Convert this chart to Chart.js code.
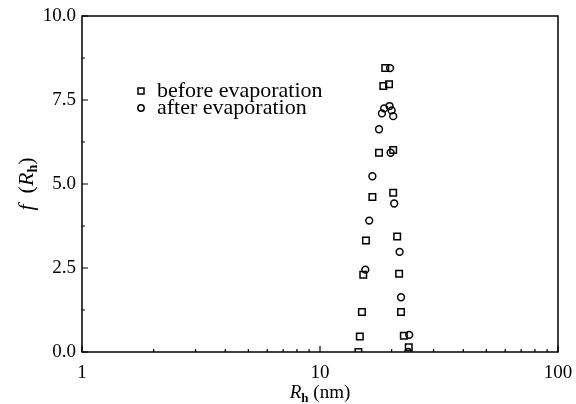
<!DOCTYPE html>
<html>
<head>
<meta charset="utf-8">
<script src="https://cdn.jsdelivr.net/npm/chart.js@4"></script>
<style>
  html, body { margin: 0; padding: 0; background: #fff; }
  #wrap { width: 576px; height: 404px; }
</style>
</head>
<body>
<div id="wrap"><canvas id="chart" width="576" height="404"></canvas></div>
<script>
// hydrodynamic radius (nm) and distribution values
const beforeX = [14.5, 14.7, 15.0, 15.2, 15.6, 16.6, 17.7, 18.45, 18.8, 19.5, 20.3, 20.3, 21.1, 21.5, 21.9, 22.5, 23.6];
const beforeY = [0.0, 0.46, 1.19, 2.30, 3.32, 4.61, 5.93, 7.92, 8.45, 7.97, 6.01, 4.74, 3.44, 2.33, 1.19, 0.48, 0.14];
const afterX = [15.5, 16.1, 16.6, 17.7, 18.2, 18.6, 19.7, 19.6, 20.0, 20.3, 19.8, 20.5, 21.6, 21.9, 23.7, 23.5];
const afterY = [2.45, 3.91, 5.23, 6.63, 7.10, 7.25, 8.45, 7.32, 7.19, 7.02, 5.93, 4.42, 2.98, 1.63, 0.51, 0.0];

const seriesNames = ['before evaporation', 'after evaporation'];
const xTickValues = [1, 10, 100];
const xMinorValues = [2, 3, 4, 5, 6, 7, 8, 9, 20, 30, 40, 50, 60, 70, 80, 90];
const yTickValues = [0, 2.5, 5, 7.5, 10];
const yMinorValues = [1.25, 3.75, 6.25, 8.75];

const SERIF = '"Liberation Serif", "DejaVu Serif", serif';

function toPoints(xs, ys) {
  return xs.map((x, i) => ({ x: x, y: ys[i] }));
}

// inward ticks, titles with subscripts, and the in-plot legend
const decorations = {
  id: 'decorations',
  afterDraw(chart) {
    const ctx = chart.ctx;
    const area = chart.chartArea;
    const xs = chart.scales.x;
    const ys = chart.scales.y;

    ctx.save();
    ctx.strokeStyle = '#000';
    ctx.lineWidth = 1.5;
    ctx.strokeRect(area.left, area.top, area.right - area.left, area.bottom - area.top);

    ctx.lineWidth = 1.2;
    ctx.beginPath();
    xTickValues.forEach(v => {
      const px = xs.getPixelForValue(v);
      ctx.moveTo(px, area.bottom); ctx.lineTo(px, area.bottom - 6);
    });
    xMinorValues.forEach(v => {
      const px = xs.getPixelForValue(v);
      ctx.moveTo(px, area.bottom); ctx.lineTo(px, area.bottom - 3);
    });
    yTickValues.forEach(v => {
      const py = ys.getPixelForValue(v);
      ctx.moveTo(area.left, py); ctx.lineTo(area.left + 6, py);
    });
    yMinorValues.forEach(v => {
      const py = ys.getPixelForValue(v);
      ctx.moveTo(area.left, py); ctx.lineTo(area.left + 3, py);
    });
    ctx.stroke();

    // x title: R_h (nm)
    ctx.fillStyle = '#000';
    ctx.textBaseline = 'alphabetic';
    ctx.textAlign = 'left';
    const xParts = [
      { t: 'R', f: 'italic 19px ' + SERIF, dy: 0 },
      { t: 'h', f: 'bold 13px ' + SERIF, dy: 4 },
      { t: ' (nm)', f: '19px ' + SERIF, dy: 0 }
    ];
    drawParts(ctx, xParts, (area.left + area.right) / 2, 398);

    // y title: f (R_h), rotated
    ctx.save();
    ctx.translate(33, (area.top + area.bottom) / 2);
    ctx.rotate(-Math.PI / 2);
    const yParts = [
      { t: 'f', f: 'italic 22px ' + SERIF, dy: 0 },
      { t: '  (', f: '22px ' + SERIF, dy: 0 },
      { t: 'R', f: 'italic 22px ' + SERIF, dy: 0 },
      { t: 'h', f: 'bold 14px ' + SERIF, dy: 4 },
      { t: ')', f: '22px ' + SERIF, dy: 0 }
    ];
    drawParts(ctx, yParts, 0, 0);
    ctx.restore();

    // legend
    const lx = 141, ly = [91, 108];
    ctx.lineWidth = 1.5;
    ctx.strokeRect(lx - 3, ly[0] - 3, 6, 6);
    ctx.beginPath();
    ctx.arc(lx, ly[1], 3.2, 0, Math.PI * 2);
    ctx.stroke();
    ctx.font = '22px ' + SERIF;
    ctx.textBaseline = 'middle';
    seriesNames.forEach((name, i) => ctx.fillText(name, 157, ly[i]));
    ctx.restore();
  }
};

function drawParts(ctx, parts, cx, baseline) {
  let total = 0;
  parts.forEach(p => { ctx.font = p.f; p.w = ctx.measureText(p.t).width; total += p.w; });
  let x = cx - total / 2;
  parts.forEach(p => {
    ctx.font = p.f;
    ctx.fillText(p.t, x, baseline + p.dy);
    x += p.w;
  });
}

new Chart(document.getElementById('chart'), {
  type: 'scatter',
  data: {
    datasets: [
      {
        label: seriesNames[0],
        data: toPoints(beforeX, beforeY),
        pointStyle: 'rect',
        pointRadius: 4.6,
        borderColor: '#000',
        backgroundColor: 'rgba(0,0,0,0)',
        borderWidth: 1.5
      },
      {
        label: seriesNames[1],
        data: toPoints(afterX, afterY),
        pointStyle: 'circle',
        pointRadius: 3.4,
        borderColor: '#000',
        backgroundColor: 'rgba(0,0,0,0)',
        borderWidth: 1.5
      }
    ]
  },
  options: {
    responsive: false,
    animation: false,
    layout: { padding: { left: 0, right: 18, top: 16, bottom: 0 } },
    plugins: {
      legend: { display: false },
      tooltip: { enabled: false }
    },
    scales: {
      x: {
        type: 'logarithmic',
        min: 1,
        max: 100,
        afterBuildTicks: s => { s.ticks = xTickValues.map(v => ({ value: v })); },
        afterFit: s => { s.height = 52; s.paddingRight = 0; s.paddingLeft = 0; },
        grid: { display: false, drawTicks: false },
        border: { display: false },
        ticks: {
          color: '#000',
          padding: 10,
          maxRotation: 0,
          autoSkip: false,
          font: { family: SERIF, size: 19 },
          callback: v => String(v)
        }
      },
      y: {
        min: 0,
        max: 10,
        afterBuildTicks: s => { s.ticks = yTickValues.map(v => ({ value: v })); },
        afterFit: s => { s.width = 82; s.paddingTop = 0; s.paddingBottom = 0; },
        grid: { display: false, drawTicks: false },
        border: { display: false },
        ticks: {
          color: '#000',
          padding: 6,
          font: { family: SERIF, size: 19 },
          callback: v => Number(v).toFixed(1)
        }
      }
    }
  },
  plugins: [decorations]
});
</script>
</body>
</html>
